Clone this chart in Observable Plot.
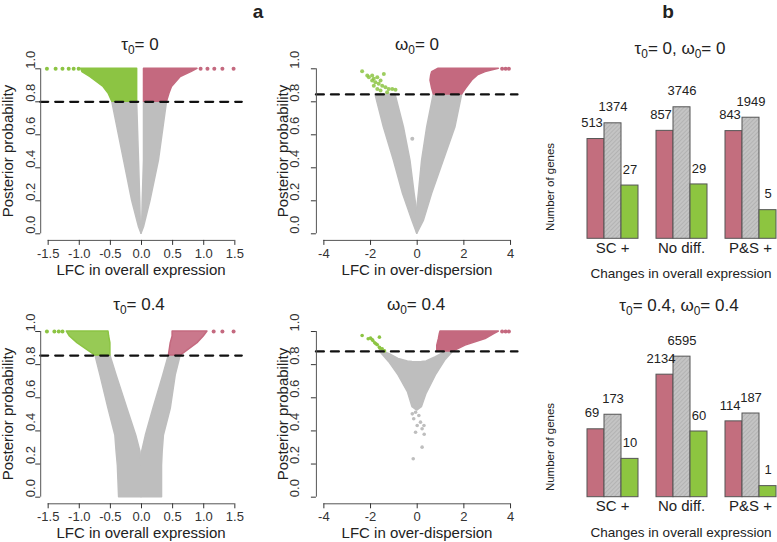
<!DOCTYPE html>
<html><head><meta charset="utf-8">
<script src="https://cdn.jsdelivr.net/npm/d3@7"></script>
<script src="https://cdn.jsdelivr.net/npm/@observablehq/plot@0.6"></script>
<style>
body{margin:0;background:#fff;}
#root{position:relative;width:777px;height:542px;overflow:hidden;font-family:"Liberation Sans",Arial,sans-serif;color:#222;background:#fff;}
.abs{position:absolute;white-space:nowrap;line-height:1.15;}
sub{font-size:70%;vertical-align:-0.3em;line-height:0;}
</style></head>
<body><div id="root">
<svg width="0" height="0" style="position:absolute"><defs>
<pattern id="hatch" patternUnits="userSpaceOnUse" width="3" height="3" patternTransform="rotate(45)">
<rect width="3" height="3" fill="#c4c4c4"/><line x1="0" y1="0" x2="0" y2="3" stroke="#a2a2a2" stroke-width="1"/>
</pattern></defs></svg>
</div>
<script>
// ---------- shared ticks ----------
const yTicks = [0, 0.2, 0.4, 0.6, 0.8, 1.0];
const exprTicks = [-1.5, -1, -0.5, 0, 0.5, 1, 1.5];
const dispTicks = [-4, -2, 0, 2, 4];

// ---------- panel a: tau0 = 0 (overall expression) ----------  rows: [p, x1, x2]
const tau0Threshold = 0.8;
const tau0GreyLeft  = [[0,0,0],[0.04,-0.04,-0.01],[0.2,-0.15,-0.02],[0.444,-0.28,-0.04],[0.8,-0.47,-0.07]];
const tau0GreyRight = [[0,0,0],[0.04,0.01,0.04],[0.2,0.02,0.145],[0.444,0.04,0.28],[0.8,0.04,0.41]];
const tau0Green = [[0.8,-0.47,-0.07],[0.85,-0.53,-0.07],[0.89,-0.61,-0.07],[0.95,-0.82,-0.07],[0.98,-0.95,-0.07],[1,-0.97,-0.07]];
const tau0Red   = [[0.8,0.04,0.41],[0.85,0.04,0.45],[0.89,0.04,0.49],[0.95,0.04,0.63],[0.98,0.04,0.8],[1,0.04,0.9]];
const tau0GreenDots = [[-1.52,1],[-1.38,1],[-1.27,1],[-1.17,1],[-1.09,1],[-1.01,1]];
const tau0RedDots   = [[0.95,1],[1.06,1],[1.17,1],[1.30,1],[1.48,1]];

// ---------- panel a: omega0 = 0 (over-dispersion) ----------
const omega0Threshold = 0.845;
const omega0GreyLeft  = [[0,0,0],[0.08,-0.21,0.05],[0.242,-0.61,-0.11],[0.444,-1.0,-0.29],[0.646,-1.43,-0.57],[0.845,-1.79,-0.93]];
const omega0GreyRight = [[0,0,0],[0.08,-0.05,0.29],[0.242,0.07,0.64],[0.444,0.21,1.14],[0.646,0.43,1.64],[0.845,0.71,1.93]];
const omega0Red = [[0.845,0.71,1.93],[0.88,0.64,2.1],[0.929,0.57,2.36],[0.96,0.6,2.6],[0.98,0.64,2.93],[1,0.9,3.5]];
const omega0RedDots = [[3.64,1],[3.79,1],[3.93,1]];
const omega0GreenDots = [[-2.36,0.985],[-2.14,0.959],[-1.93,0.959],[-1.86,0.939],[-1.71,0.949],[-1.79,0.919],[-1.65,0.909],[-1.50,0.898],[-1.36,0.888],[-1.22,0.878],[-1.07,0.878],[-1.43,0.969],[-1.57,0.929],[-1.86,0.898],[-1.71,0.878],[-1.29,0.858],[-1.57,0.868],[-0.93,0.873],[-1.93,0.929],[-2.07,0.949]];
const omega0GreyDots = [[-0.21,0.576]];

// ---------- panel a: tau0 = 0.4 ----------
const tau4Threshold = 0.855;
const tau4GreyLeft  = [[0,-0.36,0],[0.19,-0.38,0],[0.273,-0.40,-0.016],[0.372,-0.42,-0.085],[0.533,-0.53,-0.225],[0.735,-0.66,-0.40],[0.855,-0.74,-0.50]];
const tau4GreyRight = [[0,0,0.33],[0.19,0,0.33],[0.273,0.01,0.34],[0.372,0.07,0.36],[0.533,0.19,0.47],[0.735,0.35,0.55],[0.855,0.44,0.63]];
const tau4Green = [[0.855,-0.74,-0.50],[0.93,-1.03,-0.50],[0.97,-1.15,-0.52],[1,-1.2,-0.53]];
const tau4Red   = [[0.855,0.44,0.63],[0.93,0.47,0.9],[0.97,0.5,1.0],[1,0.5,1.06]];
const tau4GreenDots = [[-1.52,1],[-1.40,1],[-1.33,1],[-1.27,1]];
const tau4RedDots   = [[1.16,1],[1.30,1],[1.48,1]];

// ---------- panel a: omega0 = 0.4 ----------  grey rows: [x, y1, y2]
const omega4Threshold = 0.88;
const omega4Grey = [[-1.6,0.88,0.885],[-1.2,0.815,0.865],[-0.8,0.735,0.835],[-0.4,0.634,0.819],[-0.2,0.543,0.816],[0,0.523,0.815],[0.2,0.543,0.816],[0.4,0.624,0.819],[0.8,0.735,0.845],[1.2,0.825,0.875],[1.55,0.88,0.885]];
const omega4GreyDots = [[-0.07,0.513],[0.07,0.493],[-0.15,0.473],[0.14,0.453],[0,0.433],[0.21,0.413],[-0.07,0.392],[-0.21,0.503],[0.29,0.433],[0.21,0.302],[-0.17,0.232],[0.3,0.38]];
const omega4Red = [[0.88,0.86,1.57],[0.915,0.86,2.07],[0.955,0.93,2.93],[0.985,0.97,3.3],[1,1.0,3.5]];
const omega4RedDots = [[3.64,1],[3.79,1],[3.93,1]];
const omega4GreenDots = [[-2.0,0.96],[-1.9,0.946],[-1.82,0.932],[-1.71,0.92],[-1.62,0.905],[-1.5,0.895],[-1.4,0.883],[-1.93,0.952],[-1.77,0.926],[-1.59,0.899],[-2.36,0.976],[-1.62,0.966],[-2.1,0.956]];

// ---------- panel b ----------
const groups = ["SC +", "No diff.", "P&S +"];
const odSeries = ["Higher over-dispersion", "No difference", "Lower over-dispersion"];
const countsTop    = [[513, 1374, 27], [857, 3746, 29], [843, 1949, 5]];
const countsBottom = [[69, 173, 10], [2134, 6595, 60], [114, 187, 1]];

// ---------- styling ----------
const RED = "#C4697F", GREEN = "#8CC443", GREY = "#BEBEBE";
const BAR_FILLS = ["#C36E7E", "url(#hatch)", "#8DC540"];
const LABEL_DX = [-4, 0, 0];
const FONT = "Liberation Sans, Arial, sans-serif";
const Y_DOMAIN = [-0.04, 1.04];
const root = document.getElementById("root");

function place(node, left, top) {
  node.style.position = "absolute"; node.style.left = left + "px"; node.style.top = top + "px";
  root.appendChild(node);
}
function label(html, x, y, size, opts = {}) {
  const d = document.createElement("div");
  d.className = "abs"; d.innerHTML = html;
  d.style.left = x + "px"; d.style.top = y + "px"; d.style.fontSize = size + "px";
  d.style.transform = "translate(-50%,-50%)" + (opts.rotate ? " rotate(-90deg)" : "");
  if (opts.bold) d.style.fontWeight = "bold";
  root.appendChild(d);
}

const areaX = (rows, color, extra = {}) => Plot.areaX(rows, {y: d => d[0], x1: d => d[1], x2: d => d[2], fill: color, stroke: color, strokeWidth: 1.5, strokeLinejoin: "round", ...extra});
const dots = (rows, color, extra = {}) => Plot.dot(rows, {x: d => d[0], y: d => d[1], r: 2, fill: color, ...extra});

function volcano({box: [L, T, W, H], frame: [fl, fr, ft, fb], xdom, xticks, fmt, tickDx, threshold, layers}) {
  const marks = [
    ...layers,
    Plot.ruleY([threshold], {x1: xdom[0], x2: xdom[1], stroke: "#111", strokeWidth: 2.2, strokeDasharray: "8,7", strokeLinecap: "round"}),
    Plot.ruleY([Y_DOMAIN[0]], {x1: xticks[0], x2: xticks[xticks.length - 1], stroke: "#555"}),
    Plot.ruleX([xdom[0]], {y1: yTicks[0], y2: yTicks[yTicks.length - 1], stroke: "#555"}),
    Plot.axisX({ticks: xticks, tickFormat: fmt, tickSize: 5, tickPadding: 3, fontSize: 13, label: null}),
    Plot.axisY({ticks: yTicks, tickSize: 5, tickFormat: () => "", label: null}),
    Plot.text(yTicks, {y: d => d, text: d => d.toFixed(1), frameAnchor: "left", dx: tickDx, rotate: -90, fontSize: 13, fill: "#333"})
  ];
  const svg = Plot.plot({
    width: W, height: H,
    marginLeft: fl - L, marginRight: L + W - fr, marginTop: ft - T, marginBottom: T + H - fb,
    x: {domain: xdom}, y: {domain: Y_DOMAIN},
    style: {fontFamily: FONT, color: "#333", background: "transparent", overflow: "visible"},
    marks
  });
  place(svg, L, T);
}

volcano({box: [0, 50, 250, 230], frame: [40.2, 241.8, 61.7, 239.9], xdom: [-1.62, 1.62], xticks: exprTicks,
  fmt: d => d.toFixed(1), tickDx: -10, threshold: tau0Threshold,
  layers: [areaX(tau0GreyLeft, GREY), areaX(tau0GreyRight, GREY), areaX(tau0Green, GREEN), areaX(tau0Red, RED),
           dots(tau0GreenDots, GREEN), dots(tau0RedDots, RED)]});

volcano({box: [270, 50, 260, 230], frame: [315.9, 517.5, 61.7, 239.9], xdom: [-4.32, 4.32], xticks: dispTicks,
  fmt: d => String(d), tickDx: -22, threshold: omega0Threshold,
  layers: [areaX(omega0GreyLeft, GREY), areaX(omega0GreyRight, GREY), areaX(omega0Red, RED),
           dots(omega0RedDots, RED), dots(omega0GreyDots, GREY), dots(omega0GreenDots, GREEN, {fillOpacity: 0.85})]});

volcano({box: [0, 310, 250, 230], frame: [40.2, 241.8, 324.4, 503.3], xdom: [-1.62, 1.62], xticks: exprTicks,
  fmt: d => d.toFixed(1), tickDx: -10, threshold: tau4Threshold,
  layers: [areaX(tau4GreyLeft, GREY), areaX(tau4GreyRight, GREY), areaX(tau4Green, GREEN, {fillOpacity: 0.9}), areaX(tau4Red, RED, {fillOpacity: 0.9}),
           dots(tau4GreenDots, GREEN), dots(tau4RedDots, RED)]});

volcano({box: [270, 310, 260, 230], frame: [315.9, 517.5, 324.4, 503.3], xdom: [-4.32, 4.32], xticks: dispTicks,
  fmt: d => String(d), tickDx: -22, threshold: omega4Threshold,
  layers: [Plot.areaY(omega4Grey, {x: d => d[0], y1: d => d[1], y2: d => d[2], fill: GREY, stroke: GREY, strokeWidth: 1.5}),
           dots(omega4GreyDots, GREY, {r: 1.8}), areaX(omega4Red, RED), dots(omega4RedDots, RED),
           dots(omega4GreenDots, GREEN, {r: 1.8})]});

function bars({box: [L, T, W, H], marginTop, marginBottom, counts}) {
  const data = groups.flatMap((g, i) => odSeries.map((s, j) => ({group: g, series: s, value: counts[i][j], k: j})));
  const svg = Plot.plot({
    width: W, height: H, marginLeft: 25, marginRight: 1, marginTop, marginBottom,
    fx: {domain: groups, paddingInner: 0.25, paddingOuter: 0, axis: null, label: null},
    x: {domain: odSeries, padding: 0, axis: null},
    y: {type: "symlog", constant: 1, domain: [0, 9999], axis: null},
    style: {fontFamily: FONT, color: "#222", background: "transparent", overflow: "visible"},
    marks: [
      ...odSeries.map((s, j) => Plot.barY(data.filter(d => d.k === j), {fx: "group", x: "series", y: "value", fill: BAR_FILLS[j], stroke: "#555", strokeWidth: 1, inset: 0})),
      ...odSeries.map((s, j) => Plot.text(data.filter(d => d.k === j), {fx: "group", x: "series", y: "value", text: d => String(d.value), dy: -16, dx: LABEL_DX[j], fontSize: 13, fill: "#222"})),
      Plot.text(groups, {fx: d => d, text: d => d, frameAnchor: "bottom", dy: 14, fontSize: 15, fill: "#222"})
    ]
  });
  place(svg, L, T);
}
bars({box: [560, 80, 217, 185], marginTop: 11.1, marginBottom: 26.7, counts: countsTop});
bars({box: [560, 320, 217, 205], marginTop: 29.5, marginBottom: 28.3, counts: countsBottom});

// ---------- text ----------
label("a", 258, 12, 19, {bold: true});
label("b", 668, 12, 19, {bold: true});
label("τ<sub>0</sub>= 0", 140, 45, 17);
label("ω<sub>0</sub>= 0", 417, 45, 17);
label("τ<sub>0</sub>= 0.4", 139, 305, 17);
label("ω<sub>0</sub>= 0.4", 416, 305, 17);
label("τ<sub>0</sub>= 0, ω<sub>0</sub>= 0", 680, 49, 17);
label("τ<sub>0</sub>= 0.4, ω<sub>0</sub>= 0.4", 679, 306, 17);
label("LFC in overall expression", 141, 269.5, 15);
label("LFC in over-dispersion", 417, 269.5, 15);
label("LFC in overall expression", 141, 532.5, 15);
label("LFC in over-dispersion", 417, 532.5, 15);
label("Posterior probability", 8, 151, 15, {rotate: true});
label("Posterior probability", 283, 151, 15, {rotate: true});
label("Posterior probability", 8, 414, 15, {rotate: true});
label("Posterior probability", 283, 414, 15, {rotate: true});
label("Number of genes", 551, 187, 11.5, {rotate: true});
label("Number of genes", 551, 447, 11.5, {rotate: true});
label("Changes in overall expression", 681, 274, 13.5);
label("Changes in overall expression", 681, 533, 13.5);
</script></body></html>
